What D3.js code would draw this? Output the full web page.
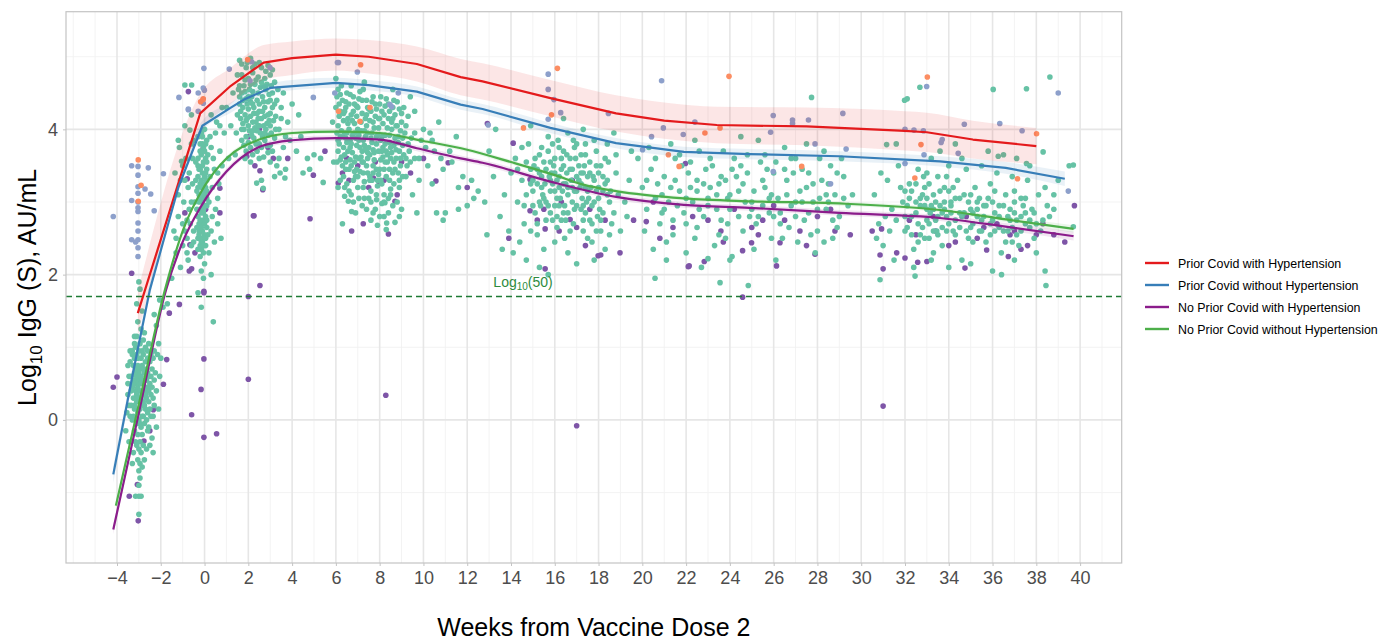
<!DOCTYPE html>
<html>
<head>
<meta charset="utf-8">
<script src="https://cdn.jsdelivr.net/npm/d3@7"></script>
<style>
  body { margin: 0; background: #fff; font-family: "Liberation Sans", Arial, sans-serif; }
</style>
</head>
<body>
<div id="chart"></div>
<script>
// axis ticks
const xTicks = [-4, -2, 0, 2, 4, 6, 8, 10, 12, 14, 16, 18, 20, 22, 24, 26, 28, 30, 32, 34, 36, 38, 40];
const yTicks = [0, 2, 4];
const cutoff = 1.69897; // log10(50)

const seriesNames = [
  "Prior Covid with Hypertension",
  "Prior Covid without Hypertension",
  "No Prior Covid with Hypertension",
  "No Prior Covid without Hypertension"
];

// fitted lines [week, log10 IgG]
const redLine = [[-3.05,1.47],[-0.2,4.22],[1.2,4.6],[2.7,4.92],[4,4.98],[6,5.03],[7.5,5.0],[9.7,4.9],[11.7,4.72],[12.7,4.66],[15.8,4.43],[18.8,4.22],[21,4.12],[23.4,4.06],[27.5,4.04],[32,3.98],[33,3.96],[35.1,3.86],[38,3.77]];
const redCI = [0.3,0.27,0.25,0.24,0.23,0.22,0.23,0.24,0.25,0.25,0.25,0.25,0.25,0.25,0.26,0.27,0.27,0.26,0.25];
const blueLine = [[-4.17,-0.75],[-3.3,0.6],[-2.5,1.79],[-1.2,3.2],[-0.1,4.05],[1.2,4.3],[1.8,4.41],[3.0,4.57],[6,4.64],[7.5,4.61],[9.7,4.52],[11.7,4.34],[12.7,4.28],[15.8,4.02],[18.8,3.81],[21.9,3.69],[24.9,3.66],[29,3.63],[33.6,3.56],[36.6,3.47],[39.3,3.32]];
const blueCI = [0.12,0.1,0.09,0.08,0.07,0.07,0.07,0.07,0.07,0.07,0.07,0.07,0.07,0.07,0.07,0.07,0.07,0.07,0.07,0.08,0.1];
const purpleLine = [[-4.17,-1.51],[-3,0.1],[-1.76,1.79],[-1,2.45],[-0.2,2.92],[1,3.42],[2.6,3.77],[4,3.85],[6,3.88],[8,3.86],[9.7,3.74],[11.7,3.6],[12.7,3.54],[15.8,3.28],[18.8,3.07],[21.9,2.96],[24.9,2.92],[29,2.85],[33.6,2.78],[36.6,2.66],[39.7,2.53]];
const purpleCI = [0.06,0.05,0.04,0.04,0.04,0.04,0.04,0.04,0.04,0.04,0.04,0.04,0.04,0.04,0.04,0.04,0.04,0.04,0.04,0.05,0.06];
const greenLine = [[-4.05,-1.18],[-3,0.22],[-1.81,1.79],[-1,2.6],[0,3.22],[1,3.6],[2.5,3.86],[4,3.95],[6,3.97],[8,3.95],[10,3.84],[12,3.72],[14,3.55],[16,3.37],[17.3,3.24],[18.8,3.15],[21.9,3.05],[25,3.01],[29,2.98],[33.6,2.89],[36.6,2.76],[39.7,2.63]];
const greenCI = [0.05,0.04,0.03,0.03,0.03,0.03,0.03,0.03,0.03,0.03,0.03,0.03,0.03,0.03,0.03,0.03,0.03,0.03,0.03,0.03,0.04,0.05];

// observations [week, log10 IgG]
const tealPts = [
  // pre-dose 2
  [-3.0,1.9],[-2.95,1.8],[-3.1,1.6],[-2.85,1.5],[-3.05,1.35],[-2.9,1.25],[-3.2,1.15],[-3.1,1.15],[-2.75,1.2],[-2.55,1.05],[-2.4,0.95],[-3.3,0.95],[-3.15,1.0],
  [-3.3,0.9],[-3.2,0.85],[-3.1,0.9],[-3.0,0.95],[-2.9,0.85],[-2.8,0.9],[-2.7,0.8],[-3.25,0.75],[-3.15,0.7],[-3.05,0.75],[-2.95,0.7],[-2.85,0.75],[-2.75,0.65],[-2.65,0.7],[-2.55,0.6],
  [-3.35,0.6],[-3.2,0.55],[-3.1,0.6],[-3.0,0.55],[-2.9,0.6],[-2.8,0.5],[-2.7,0.55],[-2.6,0.45],[-2.5,0.5],[-2.45,0.35],[-3.3,0.45],[-3.15,0.4],[-3.05,0.45],[-2.95,0.4],[-2.85,0.35],
  [-2.75,0.4],[-2.65,0.3],[-2.55,0.25],[-3.25,0.3],[-3.1,0.25],[-3.0,0.3],[-2.9,0.2],[-2.8,0.25],[-2.7,0.15],[-3.2,0.15],[-3.05,0.1],[-2.95,0.15],[-2.85,0.05],[-2.6,0.1],
  [-3.3,0.0],[-3.1,-0.05],[-3.0,0.0],[-2.9,-0.1],[-2.75,-0.05],[-2.6,-0.15],[-3.2,-0.15],[-3.05,-0.2],[-2.95,-0.3],[-2.85,-0.2],[-3.0,-0.4],[-2.9,-0.45],[-3.05,-0.55],[-2.95,-0.6],
  [-3.0,-0.7],[-2.95,-0.8],[-3.0,-0.9],[-3.0,-1.05],[-3.15,-1.05],[-2.9,-1.05],[-3.0,-1.3],[-2.4,-0.25],[-2.45,0.05],[-2.35,0.3],[-2.3,0.55],[-2.4,0.7],[-3.6,-0.15],[-3.5,0.35],
  [-3.45,0.6],[-2.2,1.3],[-2.05,1.65],[-1.9,1.55],[-2.3,1.45],[-3.2,0.2],[-2.8,0.05],[-3.1,0.5],[-2.7,0.35],[-3.0,0.65],[-2.85,0.55],[-3.05,0.85],[-2.6,0.85],[-2.35,0.05],
  [-3.4,0.8],[-3.35,0.2],[-3.25,0.5],[-3.2,1.05],[-3.15,-0.3],[-3.1,0.35],[-3.05,0.65],[-3.0,0.15],[-2.95,1.05],[-2.95,-0.05],[-2.9,0.5],[-2.85,0.95],[-2.8,0.7],[-2.8,-0.35],
  [-2.75,0.2],[-2.7,1.0],[-2.7,0.45],[-2.65,0.0],[-2.6,0.65],[-2.55,0.4],[-2.5,0.8],[-2.5,0.15],[-2.45,0.6],[-2.4,0.45],[-2.35,0.85],[-2.3,0.2],[-2.55,-0.1],[-3.25,0.05],
  [-3.35,0.4],[-3.15,0.85],[-3.05,0.3],[-2.9,0.3],[-2.65,0.55],[-3.1,-0.35],[-2.8,1.1],[-3.2,0.65],[-2.6,0.95],[-2.45,0.9],
  [-3.5,0.5],[-3.45,0.2],[-3.4,0.05],[-3.4,0.95],[-3.5,0.75],[-3.55,0.1],[-2.25,0.65],[-2.2,0.4],[-2.15,0.9],[-2.1,0.15],[-2.05,0.6],[-2.2,-0.1],[-2.3,0.95],[-2.1,1.05],
  [-2.0,0.85],[-3.45,-0.3],[-2.35,-0.45],[-2.5,-0.35],[-2.65,-0.4],[-2.75,-0.55],[-2.85,-0.65],[-3.25,-0.45],[-3.3,-0.6],
  // around dose 2
  [-0.2,2.25],[-0.05,2.3],[0.05,2.4],[-0.15,2.45],[-0.3,2.5],[0.0,2.55],[-0.1,2.6],[0.1,2.65],[-0.25,2.7],[-0.05,2.75],[0.05,2.8],[-0.15,2.85],[-0.35,2.9],[0.0,2.95],[-0.1,3.0],
  [0.1,3.05],[-0.25,3.1],[-0.05,3.15],[0.05,3.2],[-0.2,3.25],[-0.4,3.3],[0.0,3.35],[-0.1,3.4],[0.1,3.45],[-0.3,3.5],[-0.05,3.55],[0.05,3.6],[-0.15,3.65],[0.0,3.7],[-0.2,3.8],
  [0.1,3.85],[-0.1,3.9],[-0.15,2.35],[-0.25,2.6],[-0.05,2.85],[-0.2,3.05],[0.1,3.3],[-0.3,3.2],[-0.1,2.5],[0.0,2.15],[-0.15,2.05],[-0.05,1.95],[-0.1,2.7],[0.0,3.05],[-0.2,3.45],
  [-0.3,2.35],[-0.2,2.4],[-0.1,2.45],[0.05,2.5],[-0.25,2.55],[-0.15,2.65],[0.0,2.7],[0.1,2.75],[-0.3,2.8],[-0.2,2.9],[-0.05,2.9],[0.1,2.95],[-0.25,3.0],[-0.15,3.1],[0.0,3.1],
  [0.1,3.15],[-0.3,3.35],[-0.15,3.3],[0.05,3.4],[-0.25,3.45],[-0.1,3.5],[0.1,3.55],[-0.3,3.6],[-0.2,3.7],[-0.05,3.75],[0.05,3.8],[-0.3,3.9],[-0.15,3.95],[0.0,4.0],[-0.35,2.65],
  [-0.35,3.15],[0.15,3.65],[0.15,2.55],[-0.05,2.4],[0.0,3.25],[-0.1,3.2],[-0.2,2.75],[-0.1,3.8],
  [-1.1,2.1],[-1.3,2.3],[-0.8,2.5],[-1.0,2.7],[-0.7,2.9],[-1.2,3.1],[-0.6,3.0],[-0.9,3.3],[-0.55,3.6],[-1.4,2.6],[-0.75,2.2],[-0.6,2.4],[-1.5,1.95],[-1.7,1.6],[-0.5,3.85],
  [-1.2,3.85],[-0.9,4.05],[-0.6,4.2],[-0.9,4.61],[-0.59,4.61],[-0.67,3.99],[-1.05,3.56],[-0.8,2.75],[-0.5,2.6],[-1.0,3.5],[-0.7,3.4],
  [-1.3,2.5],[-1.2,2.8],[-1.1,3.3],[-1.0,2.4],[-0.95,3.0],[-0.85,3.6],[-0.8,2.3],[-0.75,3.2],[-0.65,2.7],[-0.6,3.8],[-0.55,3.25],[-0.5,2.45],[-0.45,3.0],[-0.4,3.55],[-1.35,3.4],
  [-1.15,3.75],[-0.9,2.6],
  [0.3,2.6],[0.5,2.9],[0.35,3.2],[0.6,3.4],[0.4,3.6],[0.7,3.7],[0.25,3.9],[0.55,4.1],[0.8,4.3],[0.2,2.3],[0.45,2.45],[0.3,2.0],[0.75,2.5],[0.4,1.35],[-0.15,1.55],[-0.3,1.75],[0.6,3.05],[0.3,3.75],
  [0.25,3.35],[0.35,2.8],[0.45,3.45],[0.5,3.95],[0.6,2.7],[0.65,3.25],[0.7,4.05],[0.8,3.5],[0.3,4.2],[0.2,3.0],
  // weeks 1-5
  [1.6,4.95],[2.1,4.98],[1.9,4.85],[2.3,4.9],[2.6,4.85],[2.9,4.88],[1.7,4.75],[2.0,4.7],[2.2,4.78],[2.45,4.72],[2.75,4.7],[3.0,4.75],[3.2,4.65],[1.8,4.6],[2.05,4.55],
  [2.3,4.62],[2.55,4.58],[2.8,4.55],[3.1,4.5],[1.6,4.45],[1.9,4.42],[2.15,4.45],[2.4,4.4],[2.65,4.45],[2.9,4.38],[3.3,4.4],[1.75,4.3],[2.0,4.28],[2.25,4.3],[2.5,4.25],
  [2.75,4.3],[3.0,4.22],[3.5,4.3],[1.65,4.15],[1.9,4.12],[2.1,4.18],[2.35,4.1],[2.6,4.15],[2.85,4.08],[3.15,4.12],[1.8,4.0],[2.05,3.98],[2.3,4.02],[2.55,3.95],[2.8,4.0],
  [3.05,3.95],[3.4,4.0],[1.7,3.85],[2.0,3.82],[2.25,3.88],[2.5,3.8],[2.75,3.85],[3.0,3.78],[1.9,3.7],[2.4,3.7],[2.9,3.68],[3.6,3.75],[3.8,4.1],[4.0,4.35],[3.9,3.85],
  [4.2,3.7],[4.4,3.9],[4.7,3.6],[4.5,3.4],[3.7,3.45],[3.3,3.5],[2.1,3.55],[1.4,3.65],[1.2,4.05],[1.3,4.5],[1.0,4.3],[0.9,3.95],[1.1,3.6],[1.5,4.75],[3.6,4.5],[4.3,4.2],
  [5.0,3.65],[5.3,3.6],[4.8,3.45],[3.2,3.35],[2.6,3.3],[3.45,3.4],[3.67,3.33],[2.38,3.26],[2.68,3.19],[5.42,3.27],[2.2,4.35],[2.7,4.6],[2.45,4.05],[1.85,4.52],[3.25,4.0],
  [1.7,4.9],[1.95,4.92],[2.2,4.85],[2.5,4.92],[2.8,4.8],[3.1,4.82],[1.6,4.6],[1.85,4.68],[2.1,4.62],[2.35,4.68],[2.6,4.65],[2.85,4.62],[3.05,4.6],[1.7,4.5],[1.95,4.35],
  [2.2,4.52],[2.45,4.5],[2.7,4.38],[2.95,4.48],[3.2,4.35],[1.65,4.25],[1.85,4.2],[2.1,4.38],[2.4,4.22],[2.65,4.25],[2.9,4.2],[3.1,4.3],[1.75,4.08],[2.0,4.05],[2.2,4.1],
  [2.45,4.15],[2.7,4.05],[2.95,4.12],[3.25,4.18],[1.9,3.9],[2.15,3.92],[2.4,3.98],[2.65,3.9],[2.9,3.92],[3.2,3.88],[1.8,3.78],[2.1,3.75],[2.35,3.8],[2.6,3.75],[2.85,3.78],
  [3.1,3.7],[2.2,3.65],[2.7,3.62],[3.4,3.6],[3.5,4.15],[3.7,3.9],[3.35,4.55],[1.5,4.2],[1.45,3.95],[1.55,4.55],
  [1.6,4.35],[1.75,4.4],[2.0,4.45],[2.25,4.22],[2.5,4.35],[2.75,4.18],[3.0,4.4],[1.7,4.0],[1.95,4.15],[2.2,3.98],[2.5,4.05],[2.75,3.95],[3.0,4.05],[1.85,3.6],[2.5,3.6],[3.0,3.55],
  // weeks 6-12
  [6.1,4.55],[6.3,4.4],[6.5,4.5],[6.8,4.45],[7.1,4.52],[7.4,4.4],[7.7,4.45],[8.0,4.35],[8.3,4.42],[8.6,4.3],[6.2,4.25],[6.45,4.3],[6.7,4.2],[6.95,4.32],[7.2,4.22],
  [7.5,4.28],[7.8,4.18],[8.1,4.25],[8.4,4.15],[8.7,4.2],[9.0,4.1],[9.3,4.18],[6.1,4.05],[6.35,4.12],[6.6,4.0],[6.85,4.08],[7.15,3.98],[7.4,4.05],[7.65,3.95],[7.95,4.02],
  [8.25,3.92],[8.55,4.0],[8.85,3.9],[9.15,3.95],[9.45,3.88],[6.2,3.9],[6.5,3.82],[6.75,3.92],[7.05,3.85],[7.3,3.78],[7.6,3.88],[7.85,3.8],[8.15,3.75],[8.45,3.82],[8.75,3.72],
  [9.05,3.78],[9.35,3.7],[6.1,3.7],[6.4,3.65],[6.65,3.75],[6.9,3.62],[7.2,3.7],[7.45,3.6],[7.75,3.68],[8.05,3.58],[8.35,3.65],[8.65,3.55],[8.95,3.6],[9.25,3.5],[6.3,3.5],
  [6.6,3.45],[6.85,3.55],[7.1,3.42],[7.4,3.5],[7.7,3.4],[8.0,3.45],[8.3,3.35],[8.6,3.4],[8.9,3.3],[6.2,3.3],[6.5,3.25],[7.0,3.2],[7.3,3.28],[7.6,3.15],[7.9,3.22],[8.2,3.1],
  [8.5,3.18],[6.8,3.0],[7.2,2.95],[7.5,3.05],[7.8,2.9],[8.1,2.98],[8.4,2.85],[6.4,3.08],[7.6,2.75],[7.9,2.68],[8.3,2.62],[8.7,2.72],[9.0,2.9],[9.5,3.1],[9.8,3.3],[10.2,3.5],
  [10.5,3.7],[10.9,3.45],[11.3,3.55],[11.8,3.35],[12.2,3.3],[9.6,3.6],[9.9,3.85],[10.3,3.95],[10.7,4.1],[6.0,4.7],[6.7,4.6],[7.3,4.65],[8.6,4.55],[9.6,4.25],[9.4,4.45],
  [10.0,4.0],[10.4,3.25],[11.0,2.85],[10.6,2.85],[6.57,3.01],[6.72,2.87],[7.86,3.03],[8.24,2.99],[8.32,2.71],[6.3,2.7],[6.15,4.35],[6.55,4.15],[7.0,4.0],[7.35,3.9],[7.7,4.1],
  [8.1,3.7],[8.5,3.6],[6.4,3.95],[6.9,3.35],[7.25,3.55],[7.55,3.35],[8.8,4.05],[9.2,3.35],[11.5,3.9],[12.5,3.15],[9.7,2.85],[5.9,3.55],[5.85,4.1],
  [6.05,4.45],[6.25,4.6],[6.45,4.38],[6.65,4.48],[6.85,4.35],[7.05,4.42],[7.25,4.55],[7.45,4.3],[7.65,4.38],[7.85,4.28],[8.05,4.45],[8.25,4.32],[8.45,4.25],[8.65,4.4],[8.9,4.28],
  [9.1,4.3],[6.15,4.18],[6.35,4.22],[6.55,4.08],[6.75,4.12],[6.95,4.18],[7.15,4.1],[7.35,4.15],[7.55,4.12],[7.75,4.02],[7.95,4.15],[8.15,4.08],[8.35,4.02],[8.55,4.1],[8.75,4.05],
  [8.95,3.98],[9.2,4.05],[6.05,3.95],[6.25,3.98],[6.45,3.88],[6.65,3.85],[6.85,3.95],[7.05,3.92],[7.25,3.85],[7.45,3.95],[7.65,3.82],[7.85,3.9],[8.05,3.85],[8.25,3.8],[8.45,3.92],
  [8.65,3.78],[8.85,3.82],[9.05,3.88],[9.3,3.8],[6.15,3.8],[6.35,3.75],[6.55,3.7],[6.75,3.68],[6.95,3.78],[7.15,3.62],[7.35,3.72],[7.55,3.65],[7.75,3.58],[7.95,3.7],[8.15,3.62],
  [8.35,3.55],[8.55,3.68],[8.75,3.6],[8.95,3.5],[9.2,3.6],[6.2,3.58],[6.45,3.55],[6.7,3.5],[6.95,3.45],[7.2,3.55],[7.45,3.4],[7.7,3.5],[7.95,3.38],[8.2,3.45],[8.45,3.3],
  [8.7,3.45],[8.9,3.2],[6.35,3.35],[6.8,3.3],[7.25,3.2],[7.55,3.3],[7.85,3.1],[8.1,3.25],[8.4,3.05],[6.6,3.15],[7.05,3.05],[7.4,2.9],[8.0,2.8],[8.6,2.95],[9.4,3.55],
  [9.6,3.95],[9.8,3.6],[10.1,3.75],[10.4,3.85],[10.8,3.6],[11.2,3.7],[11.6,3.2],[12.0,2.95],
  [6.0,4.3],[6.2,4.48],[6.4,4.25],[6.6,4.35],[6.8,4.25],[7.0,4.3],[7.2,4.4],[7.4,4.2],[7.6,4.25],[7.8,4.35],[8.0,4.15],[8.2,4.2],[8.4,4.35],[8.6,4.15],[8.8,4.38],[9.0,4.22],
  [6.1,3.85],[6.3,3.9],[6.5,3.95],[6.7,3.8],[6.9,3.88],[7.1,3.75],[7.3,3.98],[7.5,3.75],[7.7,3.72],[7.9,3.92],[8.1,3.9],[8.3,3.7],[8.5,3.75],[8.7,3.88],[8.9,3.7],[9.1,3.65],
  [6.05,3.55],[6.25,3.62],[6.45,3.45],[6.65,3.58],[6.85,3.42],[7.05,3.6],[7.25,3.4],[7.45,3.68],[7.65,3.3],[7.85,3.45],[8.05,3.3],[8.25,3.55],[8.45,3.45],[8.65,3.25],[8.85,3.4],[9.05,3.35],
  [6.1,3.2],[6.4,3.2],[6.7,3.1],[7.0,3.35],[7.3,3.05],[7.6,3.0],[7.9,3.3],[8.2,3.0],[8.5,3.1],[8.8,3.0],[6.9,2.85],[7.7,2.85],[8.2,2.8],[8.9,2.8],
  // weeks 13-19
  [14.2,3.6],[14.5,3.3],[14.3,3.0],[14.6,2.7],[14.4,2.45],[14.8,3.8],[14.9,3.45],[15.0,3.15],[15.1,2.85],[15.2,2.55],[15.3,3.65],[15.4,3.35],[15.5,3.05],[15.6,2.75],[15.5,2.35],
  [15.7,3.9],[15.8,3.55],[15.9,3.25],[16.0,2.95],[16.1,2.65],[16.2,3.75],[16.3,3.45],[16.35,3.15],[16.4,2.85],[16.45,2.5],[16.6,3.95],[16.7,3.6],[16.75,3.3],[16.8,3.0],[16.85,2.7],
  [17.0,3.8],[17.1,3.5],[17.15,3.2],[17.2,2.9],[17.3,2.6],[17.4,3.65],[17.5,3.35],[17.55,3.05],[17.6,2.75],[17.7,2.45],[17.8,3.85],[17.9,3.5],[18.0,3.2],[18.05,2.9],[18.1,2.6],
  [18.3,3.6],[18.4,3.3],[18.5,3.0],[18.6,2.7],[18.7,3.95],[18.8,3.4],[18.9,3.1],[15.05,3.5],[15.45,3.1],[15.85,3.4],[16.25,3.05],[16.55,3.4],[16.9,3.15],[17.3,3.4],[17.65,3.2],
  [18.0,3.4],[16.0,3.6],[16.5,3.25],[17.0,3.35],[17.45,3.0],[16.2,2.95],[15.6,3.0],[15.2,3.25],[14.7,3.1],[14.0,3.4],[13.7,3.1],[13.5,2.8],[13.9,2.6],[14.1,2.3],[14.7,2.2],
  [15.3,2.1],[16.6,2.3],[17.0,2.15],[17.8,2.2],[18.3,2.35],[19.0,2.6],[19.2,3.0],[19.4,3.3],[19.5,3.7],[19.3,2.8],[12.8,3.0],[12.3,3.05],[13.2,3.35],[12.9,2.55],[13.3,4.0],
  [13.0,3.7],[11.6,2.9],[10.9,2.75],[13.6,2.35],[14.9,4.05],[16.4,4.15],[17.3,4.0],[15.7,2.0],[16.1,3.3],[16.6,3.1],[17.2,3.25],[15.8,3.15],[16.3,2.75],[17.8,3.0],[18.2,3.15],
  [14.3,3.45],[14.5,3.75],[14.7,3.55],[14.9,3.25],[15.0,2.95],[15.1,3.6],[15.3,3.4],[15.35,2.95],[15.5,3.55],[15.55,3.25],[15.7,3.7],[15.75,3.35],[15.8,2.85],[15.95,3.5],[16.0,3.15],
  [16.1,2.8],[16.15,3.85],[16.2,3.35],[16.3,3.6],[16.4,3.25],[16.45,2.95],[16.55,3.65],[16.6,2.85],[16.7,3.45],[16.8,3.2],[16.85,3.85],[16.95,3.6],[17.0,2.95],[17.1,3.3],[17.2,3.65],
  [17.25,3.05],[17.35,3.5],[17.4,2.85],[17.5,3.15],[17.6,3.55],[17.7,2.95],[17.75,3.35],[17.9,3.15],[17.95,2.8],[18.1,3.5],[18.2,2.85],[18.3,3.25],[18.45,3.55],[18.55,3.15],[18.7,2.85],
  [18.8,3.65],[14.6,2.95],[15.2,2.7],[15.9,2.75],[16.7,2.6],[17.3,2.75],[17.9,2.6],[18.5,2.55],[14.9,2.6],[16.0,2.45],[17.5,2.5],
  [15.0,3.3],[15.2,3.45],[15.4,3.2],[15.6,3.45],[15.8,3.3],[16.0,3.4],[16.2,3.2],[16.4,3.5],[16.6,3.2],[16.8,3.45],[17.0,3.15],[17.2,3.4],[17.4,3.2],[17.6,3.4],[17.8,3.3],
  [18.0,3.05],[18.2,3.35],[18.4,3.1],[15.3,3.0],[15.7,2.95],[16.1,3.05],[16.5,2.75],[16.9,2.9],[17.3,2.95],[17.7,2.7],[18.1,2.75],[15.4,3.75],[15.9,3.8],[16.4,3.7],[16.9,3.75],
  [17.4,3.8],[17.9,3.7],[18.4,3.8],
  // weeks 20-29
  [19.8,3.6],[20.0,3.2],[20.2,2.9],[20.4,3.45],[20.6,3.05],[20.8,2.7],[21.0,3.35],[21.2,3.0],[21.4,2.55],[21.5,3.6],[21.7,3.15],[21.9,2.85],[22.1,3.4],[22.3,3.0],[22.5,2.65],
  [22.6,3.7],[22.8,3.25],[23.0,2.95],[23.2,3.5],[23.4,3.1],[23.6,2.75],[23.8,3.3],[24.0,2.9],[24.2,3.6],[24.4,3.15],[24.6,2.6],[24.8,3.4],[25.0,3.0],[25.2,2.7],[25.4,3.55],
  [25.6,3.2],[25.8,2.85],[26.0,3.4],[26.2,3.05],[26.4,2.5],[26.6,3.3],[26.8,2.95],[27.0,3.6],[27.2,3.15],[27.4,2.75],[27.6,3.4],[27.8,3.0],[28.0,2.6],[28.2,3.3],[28.4,2.9],
  [28.6,3.5],[28.8,3.1],[29.0,2.8],[29.2,3.35],[29.4,2.95],[20.1,2.6],[20.5,2.35],[21.1,2.2],[22.0,2.3],[22.7,2.1],[23.3,2.4],[24.1,2.25],[25.1,2.35],[26.1,2.2],[27.1,2.45],
  [27.9,2.3],[28.7,2.5],[20.3,3.75],[21.3,3.8],[22.4,3.85],[23.7,3.7],[24.5,3.9],[25.3,3.85],[26.5,3.75],[27.5,3.8],[28.3,3.7],[29.1,3.6],[21.6,2.95],[22.2,3.2],[23.1,3.2],
  [23.9,3.05],[24.7,3.0],[25.5,2.95],[26.3,2.85],[27.3,3.0],[28.1,3.05],[20.7,3.25],[21.8,3.5],[22.9,3.45],[24.3,3.35],[25.7,3.45],[26.9,3.4],[28.5,3.25],[24.9,2.8],[23.5,2.55],
  [22.4,2.5],[21.4,2.75],[26.7,2.65],[28.9,2.65],[27.7,2.55],[29.6,3.1],[20.58,1.95],[23.55,1.89],[24.0,2.2],[23.0,2.22],[24.84,1.85],[27.73,4.44],[20.9,3.1],[22.6,2.9],[25.9,3.1],
  [20.2,3.3],[20.6,3.6],[20.9,2.85],[21.3,3.2],[21.7,3.65],[22.0,2.7],[22.2,3.55],[22.5,3.15],[22.8,2.8],[23.1,3.6],[23.4,2.9],[23.6,3.35],[23.9,2.7],[24.1,3.45],[24.4,2.8],
  [24.6,3.25],[24.8,3.65],[25.1,3.15],[25.3,2.8],[25.6,3.65],[25.8,3.05],[26.1,3.55],[26.3,2.7],[26.6,3.1],[26.8,3.6],[27.0,2.8],[27.3,3.45],[27.6,2.85],[27.8,3.25],[28.1,3.6],
  [28.4,3.1],[28.7,2.75],[28.9,3.4],[29.2,3.05],[21.1,2.45],[23.8,2.5],[25.9,2.5],[28.3,2.45],
  [21.0,2.9],[22.0,3.05],[23.0,3.05],[24.0,3.1],[25.0,2.9],[26.0,2.8],[27.0,3.0],[28.0,2.9],[21.5,3.3],[22.5,3.3],[23.5,3.25],[24.5,3.5],[25.5,3.3],[26.5,3.45],[27.5,3.2],[28.5,3.0],
  // weeks 30-40
  [30.6,3.1],[30.8,2.7],[31.0,2.4],[31.2,3.3],[31.4,2.9],[31.5,2.2],[31.7,3.5],[31.9,3.0],[32.0,2.6],[32.2,3.25],[32.3,2.8],[32.4,2.35],[32.6,3.45],[32.7,3.05],[32.8,2.65],
  [32.9,3.2],[33.0,2.9],[33.1,2.5],[33.2,3.6],[33.3,3.1],[33.4,2.75],[33.5,3.35],[33.6,2.95],[33.7,2.4],[33.8,3.2],[33.9,2.8],[34.0,3.5],[34.1,3.0],[34.2,2.6],[34.4,3.3],
  [34.5,2.85],[34.6,2.2],[34.8,3.45],[34.9,3.0],[35.0,2.65],[35.2,3.2],[35.3,2.8],[35.5,3.5],[35.6,2.95],[35.7,2.45],[35.9,3.25],[36.0,2.75],[36.2,3.4],[36.3,2.95],[36.4,2.3],
  [36.6,3.1],[36.7,2.6],[36.9,3.35],[37.0,2.85],[37.2,2.4],[37.3,3.05],[37.5,2.7],[37.6,3.3],[37.8,2.9],[37.9,2.5],[38.1,3.1],[38.3,2.75],[38.5,2.95],[32.5,3.0],[33.15,2.85],
  [33.8,3.0],[34.3,2.75],[32.1,2.95],[32.85,3.35],[33.45,2.6],[34.7,3.1],[35.4,3.05],[36.1,3.15],[36.8,2.9],[37.4,2.95],[35.1,2.45],[32.6,2.45],[31.3,2.6],[30.9,3.4],[33.6,3.7],
  [34.3,3.8],[35.8,3.7],[36.5,3.65],[37.1,3.6],[37.7,3.5],[31.6,3.8],[32.4,2.1],[33.2,2.2],[34.0,2.1],[35.0,2.15],[36.0,2.05],[37.0,2.2],[38.0,2.3],[38.4,2.05],[39.5,3.5],
  [39.0,3.3],[37.55,4.56],[38.62,4.72],[36.03,4.55],[32.68,4.58],[31.98,4.4],[32.1,4.42],[39.69,3.51],[39.69,2.66],[38.44,1.85],[30.86,1.93],[32.46,1.98],[36.41,2.0],[38.31,3.69],
  [37.55,3.53],[36.26,3.63],[31.16,3.79],[33.0,3.4],[34.6,3.6],[32.0,3.15],[33.3,2.3],[35.5,2.6],[36.9,2.45],[38.8,2.9],
  [31.6,2.75],[31.8,3.2],[32.0,2.8],[32.2,3.05],[32.3,2.55],[32.5,3.25],[32.6,2.7],[32.7,2.95],[32.8,3.1],[32.9,2.5],[33.0,2.75],[33.1,3.25],[33.2,2.95],[33.3,2.6],[33.4,3.0],
  [33.5,2.8],[33.6,3.15],[33.7,2.65],[33.8,2.9],[33.9,3.35],[34.0,2.7],[34.1,2.95],[34.2,3.2],[34.3,2.55],[34.5,3.05],[34.6,2.8],[34.8,2.6],[35.0,3.1],[35.1,2.85],[35.3,3.0],
  [35.4,2.6],[35.6,2.8],[35.8,3.05],[35.9,2.55],[36.1,2.85],[36.3,2.65],[36.5,2.95],[36.6,2.45],[36.8,2.75],[37.0,3.15],[37.1,2.55],[37.3,2.8],[37.5,3.05],[37.7,2.65],[37.9,2.85],
  [38.2,2.6],[38.4,3.2],[38.6,2.8],[31.1,2.8],[30.7,2.5],[38.8,3.1],
  [32.1,2.65],[32.3,3.15],[32.5,2.85],[32.7,2.55],[32.9,2.95],[33.1,2.7],[33.3,2.9],[33.5,2.55],[33.7,2.85],[33.9,2.6],[34.1,2.85],[34.3,3.05],[34.5,2.65],[34.7,2.85],[34.9,2.5],
  [35.1,2.7],[35.3,2.9],[35.5,2.75],[35.7,2.95],[35.9,2.7],[36.1,2.6],[36.3,2.8],[36.5,2.6],[36.7,2.8],[36.9,2.65],[37.1,2.75],[37.3,2.6],[37.5,2.85],[37.7,2.75],[38.0,2.7],
  [33.0,3.05],[34.0,3.15],[35.0,2.9],[36.0,3.0],[37.0,3.0]
];

const purplePts = [
  [-3.33,2.02],[-4.0,0.59],[-4.17,0.45],[-3.07,-0.89],[-3.44,-1.05],[-3.03,-1.39],[-2.77,-0.29],[-2.5,-0.15],[-2.34,0.14],[-1.88,0.49],[-1.73,0.83],[-1.61,1.47],[-1.15,1.59],
  [-0.03,0.84],[-0.16,0.42],[-0.59,0.07],[-0.03,-0.24],[0.55,-0.19],[2.0,0.56],[2.0,1.7],[-0.03,1.75],[-0.74,4.52],[-0.06,3.74],[-0.79,3.32],[-0.9,2.85],[-0.67,2.41],
  [-0.44,2.3],[-0.59,2.08],[-0.7,2.05],[-0.03,1.77],[0.7,3.19],[0.7,2.85],[2.26,2.81],[1.93,3.63],[2.53,3.43],[3.14,3.6],[2.66,3.17],[2.23,2.81],[4.82,2.77],[4.97,3.37],
  [6.11,3.26],[6.72,2.6],[2.53,1.85],[7.71,3.33],[7.98,3.27],[8.7,3.01],[8.4,2.56],[7.25,2.7],[9.41,3.4],[10.57,3.29],[11.13,3.54],[12.92,4.08],[14.1,3.81],[14.87,3.31],
  [14.87,2.88],[15.56,2.63],[15.56,2.08],[16.7,2.76],[17.98,2.26],[18.1,2.27],[18.98,2.3],[20.18,2.73],[22.1,2.11],[22.83,2.18],[23.59,2.6],[24.58,2.33],[21.97,3.53],
  [8.28,0.34],[17.0,-0.08],[24.58,1.69],[22.14,2.12],[31.0,0.19],[31.0,2.08],[30.86,2.27],[30.93,2.63],[31.62,2.3],[32.0,2.23],[32.58,2.17],[33.0,2.18],[34.74,2.09],
  [35.73,2.34],[36.72,2.25],[26.13,2.12],[26.29,2.44],[27.89,2.28],[24.99,2.44],[39.74,2.95],[26.5,2.75],[27.2,2.6],[28.6,2.9],[29.5,2.55],[33.4,2.6],[34.3,2.45],
  [35.6,2.65],[36.8,2.55],[37.6,2.4],[38.3,2.7],[38.8,2.55],[32.2,2.75],[23.0,2.75],[24.2,2.9],[25.3,2.55],[21.4,2.65],[19.6,2.75],[16.2,2.6],[17.4,2.4],[15.2,2.75],
  [13.9,2.5],[3.8,3.6],[5.5,3.7],[9.0,3.55],[10.0,3.6],[12.0,3.2],[20.5,3.0],[25.5,2.75],[28.0,2.8],[30.5,2.6],[34.8,2.8],[37.0,2.6],[39.3,2.45],[6.5,3.6],[7.8,3.55],
  [6.3,3.4],[7.0,3.5],[7.5,3.2],[8.2,3.3],[8.8,3.1],[6.6,3.3],[2.0,3.9],[2.5,4.0],[2.9,3.75],[2.3,3.5],[15.5,2.9],[16.3,3.0],[17.0,2.65],[17.6,2.9],[18.3,2.75],[16.8,3.3],
  [20.8,2.5],[22.3,2.8],[23.7,2.45],[25.0,2.65],[26.0,2.95],[27.5,2.4],[28.8,2.6],[32.5,2.55],[33.3,2.8],[34.0,2.4],[35.3,2.5],[36.2,2.7],[37.3,2.35],[38.0,2.55],
  [-0.2,2.6],[-0.1,3.2],[0.05,2.9]
];

const bluePts = [
  [-3.04,3.49],[-3.04,3.37],[-3.04,3.21],[-3.04,3.12],[-3.04,3.0],[-3.04,2.92],[-3.04,2.87],[-3.04,2.71],[-3.04,2.6],[-3.04,2.48],[-3.04,2.37],[-3.04,2.25],[-4.17,2.8],
  [-3.33,3.5],[-2.57,3.47],[-2.72,3.18],[-2.46,3.11],[-2.3,2.88],[-1.88,3.39],[-3.33,3.02],[-3.33,2.48],[-3.15,2.45],
  [-0.03,4.84],[-0.29,4.5],[-0.01,4.54],[-1.17,4.44],[-0.74,4.27],[-0.29,4.25],[-0.06,4.36],[-0.06,4.57],[-0.74,4.28],
  [2.99,4.85],[6.12,4.92],[6.98,4.79],[5.95,4.5],[8.47,4.34],[8.85,4.5],[2.15,4.93],[1.13,4.83],[2.08,4.67],[4.97,4.44],[6.07,4.92],
  [8.55,4.31],[12.96,4.06],[15.7,4.76],[15.7,4.55],[15.96,4.41],[16.27,4.23],[15.7,4.14],[18.45,4.22],[20.88,4.67],[20.96,4.02],[21.87,3.93],[22.4,4.1],[20.42,3.9],[20.01,3.72],
  [25.98,4.19],[26.86,4.13],[26.86,4.08],[27.59,4.13],[25.86,3.96],[27.89,3.8],[29.16,4.22],[29.31,3.73],[32.0,4.0],[32.41,3.99],[32.84,3.98],[32.99,4.59],[33.65,3.82],
  [33.7,3.86],[34.43,3.67],[34.71,4.07],[36.33,4.08],[37.35,3.98],[39.0,4.5],[39.46,3.15],[32.0,3.53],[32.87,3.65],[28.6,3.25],[25.98,3.42]
];

const orangePts = [
  [-3.03,3.58],[-2.9,3.23],[-3.03,3.01],[-0.07,4.41],[-0.18,4.38],[-0.06,4.42],[1.97,4.96],[7.13,4.89],[7.56,4.3],[6.12,4.25],[7.1,4.11],[16.12,4.84],[15.85,4.2],
  [14.57,4.02],[23.96,4.73],[22.86,3.95],[23.55,4.02],[21.19,3.65],[21.68,3.49],[33.02,4.72],[32.73,3.79],[27.28,3.49],[32.45,3.33],[38.01,3.94],[37.14,3.32]
];

const lineColors = ["#E41A1C", "#377EB8", "#8B1C8B", "#4DAF4A"];

const width = 1379, height = 641;
const panel = { left: 66, right: 1121.7, top: 11.7, bottom: 563 };

const x = d3.scaleLinear().domain([-6.33, 41.9]).range([panel.left, panel.right]);
const y = d3.scaleLinear().domain([-1.97, 5.62]).range([panel.bottom, panel.top]);

const svg = d3.select("#chart").append("svg")
  .attr("width", width)
  .attr("height", height)
  .style("font-family", "'Liberation Sans', Arial, sans-serif");

// minor grid
const xMinor = d3.range(-6, 42, 1).filter(d => !xTicks.includes(d));
const yMinor = [-1, 1, 3, 5];
svg.append("g").selectAll("line").data(xMinor).join("line")
  .attr("x1", d => x(d)).attr("x2", d => x(d))
  .attr("y1", panel.top).attr("y2", panel.bottom)
  .attr("stroke", "#f2f2f2").attr("stroke-width", 0.9);
svg.append("g").selectAll("line").data(yMinor).join("line")
  .attr("x1", panel.left).attr("x2", panel.right)
  .attr("y1", d => y(d)).attr("y2", d => y(d))
  .attr("stroke", "#f2f2f2").attr("stroke-width", 0.9);

// major grid
svg.append("g").selectAll("line").data(xTicks).join("line")
  .attr("x1", d => x(d)).attr("x2", d => x(d))
  .attr("y1", panel.top).attr("y2", panel.bottom)
  .attr("stroke", "#e6e6e6").attr("stroke-width", 1.6);
svg.append("g").selectAll("line").data(yTicks).join("line")
  .attr("x1", panel.left).attr("x2", panel.right)
  .attr("y1", d => y(d)).attr("y2", d => y(d))
  .attr("stroke", "#e6e6e6").attr("stroke-width", 1.6);

// points
const ptGroup = svg.append("g");
const drawPts = (data, color) => {
  ptGroup.append("g").selectAll("circle").data(data).join("circle")
    .attr("cx", d => x(d[0]))
    .attr("cy", d => y(d[1]))
    .attr("r", 2.8)
    .attr("fill", color);
};
drawPts(purplePts, "#7E55A7");
drawPts(tealPts, "#66C2A5");
drawPts(bluePts, "#8DA0CB");
drawPts(orangePts, "#FC8D62");

// fitted lines with ribbons (red/blue have visible kinks, others are smooth)
const fits = [
  { line: redLine, ci: redCI, curve: d3.curveLinear },
  { line: blueLine, ci: blueCI, curve: d3.curveLinear },
  { line: purpleLine, ci: purpleCI, curve: d3.curveMonotoneX },
  { line: greenLine, ci: greenCI, curve: d3.curveMonotoneX }
];

fits.forEach((f, i) => {
  const withCi = f.line.map((p, j) => [p[0], p[1], f.ci[j]]);
  const area = d3.area()
    .x(d => x(d[0]))
    .y0(d => y(d[1] - d[2]))
    .y1(d => y(d[1] + d[2]))
    .curve(d3.curveMonotoneX);
  svg.append("path")
    .datum(withCi)
    .attr("d", area)
    .attr("fill", lineColors[i])
    .attr("fill-opacity", 0.11);
});
fits.forEach((f, i) => {
  const line = d3.line()
    .x(d => x(d[0]))
    .y(d => y(d[1]))
    .curve(f.curve);
  svg.append("path")
    .datum(f.line)
    .attr("d", line)
    .attr("fill", "none")
    .attr("stroke", lineColors[i])
    .attr("stroke-width", 2.2)
    .attr("stroke-linejoin", "round");
});

// cutoff line
svg.append("line")
  .attr("x1", panel.left).attr("x2", panel.right)
  .attr("y1", y(cutoff)).attr("y2", y(cutoff))
  .attr("stroke", "#1E7B34")
  .attr("stroke-width", 1.6)
  .attr("stroke-dasharray", "6,4");

const cutLabel = svg.append("text")
  .attr("x", x(14.55))
  .attr("y", y(cutoff) - 10)
  .attr("text-anchor", "middle")
  .attr("fill", "#2E8B3E")
  .style("font-size", "14px");
cutLabel.append("tspan").text("Log");
cutLabel.append("tspan").attr("dy", 3).style("font-size", "10px").text("10");
cutLabel.append("tspan").attr("dy", -3).text("(50)");

// panel border
svg.append("rect")
  .attr("x", panel.left).attr("y", panel.top)
  .attr("width", panel.right - panel.left)
  .attr("height", panel.bottom - panel.top)
  .attr("fill", "none")
  .attr("stroke", "#c4c4c4")
  .attr("stroke-width", 1.2);

// axes
const xAxis = svg.append("g")
  .attr("transform", `translate(0,${panel.bottom})`)
  .call(d3.axisBottom(x).tickValues(xTicks).tickSize(3).tickPadding(5));
xAxis.select(".domain").remove();
xAxis.selectAll("line").attr("stroke", "#c4c4c4");
xAxis.selectAll("text").attr("fill", "#4D4D4D").style("font-size", "18px")
  .style("font-family", "'Liberation Sans', Arial, sans-serif");

const yAxis = svg.append("g")
  .attr("transform", `translate(${panel.left},0)`)
  .call(d3.axisLeft(y).tickValues(yTicks).tickSize(3).tickPadding(5));
yAxis.select(".domain").remove();
yAxis.selectAll("line").attr("stroke", "#c4c4c4");
yAxis.selectAll("text").attr("fill", "#4D4D4D").style("font-size", "18px")
  .style("font-family", "'Liberation Sans', Arial, sans-serif");

// axis titles
svg.append("text")
  .attr("x", (panel.left + panel.right) / 2)
  .attr("y", 636)
  .attr("text-anchor", "middle")
  .style("font-size", "25px")
  .text("Weeks from Vaccine Dose 2");

const yTitle = svg.append("text")
  .attr("transform", `translate(36,${(panel.top + panel.bottom) / 2}) rotate(-90)`)
  .attr("text-anchor", "middle")
  .style("font-size", "25px");
yTitle.append("tspan").text("Log");
yTitle.append("tspan").attr("dy", 6).style("font-size", "17px").text("10");
yTitle.append("tspan").attr("dy", -6).text(" IgG (S), AU/mL");

// legend
const legend = svg.append("g").attr("transform", "translate(1145,263)");
seriesNames.forEach((name, i) => {
  const row = legend.append("g").attr("transform", `translate(0,${i * 22})`);
  row.append("line")
    .attr("x1", 0).attr("x2", 24)
    .attr("stroke", lineColors[i])
    .attr("stroke-width", 2.4);
  row.append("text")
    .attr("x", 33)
    .attr("y", 4.5)
    .style("font-size", "12.4px")
    .text(name);
});
</script>
</body>
</html>
